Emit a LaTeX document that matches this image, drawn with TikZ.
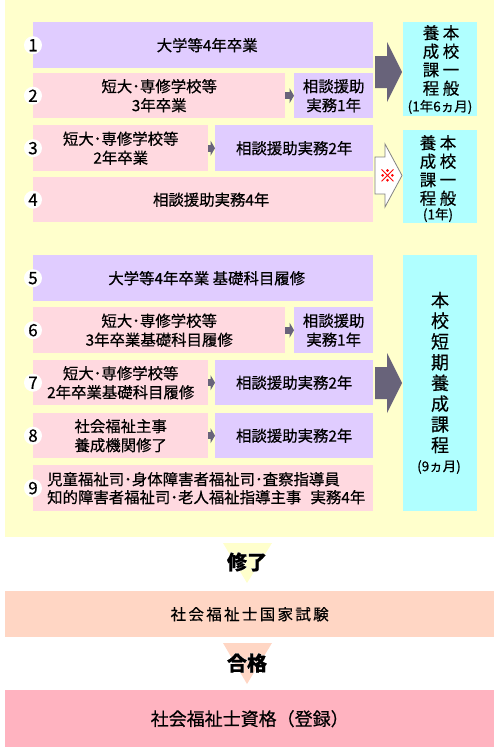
\documentclass[tikz,border=0pt]{standalone}
\usepackage{fontspec}
\setmainfont{Noto Sans CJK JP}[FakeBold=0.5]
\usetikzlibrary{arrows.meta}
\definecolor{bgY}{RGB}{255,255,204}
\definecolor{purp}{RGB}{224,204,255}
\definecolor{pinkb}{RGB}{255,217,224}
\definecolor{blueb}{RGB}{176,255,255}
\definecolor{salm}{RGB}{255,214,196}
\definecolor{regp}{RGB}{255,179,192}
\definecolor{darkarr}{RGB}{104,99,122}
\definecolor{hollowline}{RGB}{130,130,130}
\tikzset{
  base/.style={anchor=north west, inner sep=0pt, align=center, text=black,
    font=\fontsize{15.4}{19}\selectfont},
  pu/.style={base, fill=purp},
  pk/.style={base, fill=pinkb},
  bl/.style={anchor=north west, inner sep=0pt, fill=blueb},
  numc/.style={circle, fill=white, minimum size=18pt, inner sep=0pt,
    font=\fontsize{17}{17}\selectfont},
  smallarr/.style={line width=7pt, draw=darkarr,
    -{Triangle[length=4.5pt,width=15pt]}},
  fat/.style={fill=darkarr},
  hollow/.style={fill=white, draw=hollowline, line width=0.8pt},
  vtext/.style={inner sep=0pt, align=center, font=\fontsize{16.5}{18.5}\selectfont},
  vtextb/.style={inner sep=0pt, align=center, font=\fontsize{18}{20.7}\selectfont},
  smalltxt/.style={inner sep=0pt, font=\fontsize{13.5}{13.5}\selectfont},
  halo/.style={inner sep=0pt, text=white, font=\fontsize{20}{20}\selectfont\bfseries\addfontfeatures{FakeBold=4}},
  bigword/.style={inner sep=0pt, font=\fontsize{20}{20}\selectfont\bfseries},
}
\newcommand\fatarrow[2]{%
  \path[#1] (#2) ++(0,-16) -- ++(12,0) -- ++(0,-14) -- ++(15,30) -- ++(-15,30)
    -- ++(0,-14) -- ++(-12,0) -- cycle;}
\begin{document}
\begin{tikzpicture}[x=1pt,y=-1pt]
\useasboundingbox (0,0) rectangle (495,747);
\node[fill=bgY, anchor=north west, inner sep=0pt, minimum width=489pt, minimum height=537pt] (bg) at (5,0) {};
% row 1
\node[pu, minimum width=340pt, minimum height=46pt] (r1) at (33,22) {\hspace*{8pt}大学等4年卒業};
% row 2
\node[pk, minimum width=252pt, minimum height=45pt] (r2a) at (33,73) {短大･専修学校等\\3年卒業};
\node[pu, minimum width=79pt, minimum height=45pt] (r2b) at (294,73) {相談援助\\実務1年};
% row 3
\node[pk, minimum width=175pt, minimum height=46pt] (r3a) at (33,125) {短大･専修学校等\\2年卒業};
\node[pu, minimum width=158pt, minimum height=46pt] (r3b) at (215,125) {相談援助実務2年};
% row 4
\node[pk, minimum width=340pt, minimum height=45pt] (r4) at (33,177) {\hspace*{16pt}相談援助実務4年};
% blue boxes
\node[bl, minimum width=74pt, minimum height=94pt] (b1) at (403,22) {};
\node[bl, minimum width=74pt, minimum height=93pt] (b2) at (403,130) {};
\node[bl, minimum width=74pt, minimum height=256pt] (b3) at (403,255) {};
% row 5
\node[pu, minimum width=340pt, minimum height=46pt] (r5) at (33,255) {\hspace*{7pt}大学等4年卒業 基礎科目履修};
% row 6
\node[pk, minimum width=252pt, minimum height=46pt] (r6a) at (33,307) {短大･専修学校等\\3年卒業基礎科目履修};
\node[pu, minimum width=79pt, minimum height=46pt] (r6b) at (294,307) {相談援助\\実務1年};
% row 7
\node[pk, minimum width=175pt, minimum height=45pt] (r7a) at (33,360) {短大･専修学校等\\2年卒業基礎科目履修};
\node[pu, minimum width=158pt, minimum height=45pt] (r7b) at (215,360) {相談援助実務2年};
% row 8
\node[pk, minimum width=175pt, minimum height=45pt] (r8a) at (33,413) {社会福祉主事\\養成機関修了};
\node[pu, minimum width=158pt, minimum height=45pt] (r8b) at (215,413) {相談援助実務2年};
% row 9
\node[pk, minimum width=340pt, minimum height=46pt] (r9) at (33,465) {};
\node[anchor=west, inner sep=0pt, align=left, font=\fontsize{15.4}{18}\selectfont] (t9) at ([xshift=14pt]r9.west)
  {児童福祉司･身体障害者福祉司･査察指導員\\知的障害者福祉司･老人福祉指導主事\hspace{0.6em}実務4年};
% number circles
\foreach \r/\n in {r1/1,r2a/2,r3a/3,r4/4,r5/5,r6a/6,r7a/7,r8a/8,r9/9}
  \node[numc] (n\n) at (\r.west) {\n};
% small arrows
\draw[smallarr] (r2a.east) -- (r2b.west);
\draw[smallarr] (r3a.east) -- (r3b.west);
\draw[smallarr] (r6a.east) -- (r6b.west);
\draw[smallarr] (r7a.east) -- (r7b.west);
\draw[smallarr] (r8a.east) -- (r8b.west);
% fat arrows
\coordinate (f1) at (375,72);
\coordinate (f2) at (375,383);
\fatarrow{fat}{f1}
\fatarrow{fat}{f2}
\coordinate (h1) at (375,175.5);
\path[hollow] (h1) ++(0,-18.5) -- ++(10,0) -- ++(0,-13) -- ++(17,31.5) -- ++(-17,31.5)
  -- ++(0,-13) -- ++(-10,0) -- cycle;
\node[inner sep=0pt, text=red, font=\fontsize{17}{17}\selectfont] (kome) at (387.5,175.5) {※};
% blue texts
\node[vtext] (b1l) at (431,60.5) {養\\成\\課\\程};
\node[vtext] (b1r) at (451,60.5) {本\\校\\一\\般};
\node[smalltxt] (b1p) at (440,107) {(1年6ヵ月)};
\node[vtext] (b2l) at (428,170.5) {養\\成\\課\\程};
\node[vtext] (b2r) at (448,170.5) {本\\校\\一\\般};
\node[smalltxt] (b2p) at (438,215) {(1年)};
\node[vtextb] (b3t) at (440,372.5) {本\\校\\短\\期\\養\\成\\課\\程};
\node[smalltxt] (b3p) at (439,467) {(9ヵ月)};
% bottom part
\node[fill=salm, anchor=north west, inner sep=0pt, minimum width=489pt, minimum height=46pt,
  font=\fontsize{15.5}{15.5}\selectfont\addfontfeatures{LetterSpace=15}] (exam) at (5,591) {社会福祉士国家試験};
\node[fill=regp, anchor=north west, inner sep=0pt, minimum width=489pt, minimum height=57pt,
  font=\fontsize{18}{18}\selectfont] (reg) at (5,690) {社会福祉士資格（登録）};
\fill[bgY] (223,543) -- (272,543) -- (247,583) -- cycle;
\fill[salm] (223,643) -- (272,643) -- (247,684) -- cycle;
\node[halo] (doneh) at (247,562) {修了};
\node[bigword] (done) at (247,562) {修了};
\node[halo] (passh) at (247,663) {合格};
\node[bigword] (pass) at (247,663) {合格};
\end{tikzpicture}
\end{document}
